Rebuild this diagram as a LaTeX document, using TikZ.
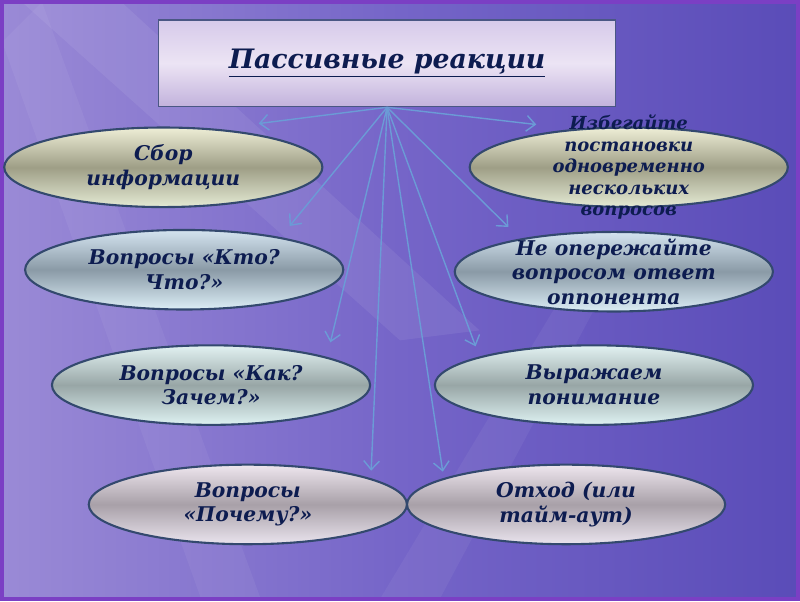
\documentclass[tikz,border=0pt]{standalone}
\usepackage{fontspec}
\setmainfont{DejaVu Serif}
\usepackage{tikz}
\usetikzlibrary{positioning, arrows.meta, shapes.geometric}

\definecolor{bgdark}{HTML}{5A4CB8}
\definecolor{bgmid}{HTML}{7565C8}
\definecolor{bglight}{HTML}{9A8AD6}
\definecolor{framepurple}{HTML}{7B3FC4}
\definecolor{inkblue}{HTML}{0D1C50}
\definecolor{ovalline}{HTML}{33496E}
\definecolor{linkblue}{HTML}{6B9BD6}
\definecolor{titleline}{HTML}{4A5784}
% oval tints: top, middle, bottom
\definecolor{yelT}{HTML}{EEEED6}\definecolor{yelM}{HTML}{9E9E86}\definecolor{yelB}{HTML}{E4EAD4}
\definecolor{bluT}{HTML}{D4E4F0}\definecolor{bluM}{HTML}{8A9AA6}\definecolor{bluB}{HTML}{DCEEF6}
\definecolor{cyaT}{HTML}{E2F2F2}\definecolor{cyaM}{HTML}{98A6A6}\definecolor{cyaB}{HTML}{DEF2F2}
\definecolor{pnkT}{HTML}{EEE6EE}\definecolor{pnkM}{HTML}{A8A0A8}\definecolor{pnkB}{HTML}{EAE4EE}
\definecolor{ttlT}{HTML}{D6CAEA}\definecolor{ttlM}{HTML}{ECE4F4}\definecolor{ttlB}{HTML}{C2B2DC}

\begin{document}
\begin{tikzpicture}[
    x=0.02cm, y=-0.02cm,
    oval/.style={draw=ovalline, line width=1.2pt, ellipse, minimum width=6.4cm,
        minimum height=1.6cm, inner sep=0pt, shading=axis},
    yel/.style={oval, top color=yelT, bottom color=yelB, middle color=yelM},
    blu/.style={oval, top color=bluT, bottom color=bluB, middle color=bluM},
    cya/.style={oval, top color=cyaT, bottom color=cyaB, middle color=cyaM},
    pnk/.style={oval, top color=pnkT, bottom color=pnkB, middle color=pnkM},
    ovtext/.style={align=center, text=inkblue, font=\fontsize{11.6}{14.2}\selectfont\bfseries\itshape},
    link/.style={draw=linkblue, line width=0.8pt, -{Straight Barb[length=5pt, width=9pt]}},
]
% Background
\shade[left color=bglight, right color=bgdark, middle color=bgmid] (0,0) rectangle (800,600);
\fill[white, opacity=0.07] (20,0) -- (120,0) -- (480,330) -- (400,340) -- cycle;
\fill[white, opacity=0.05] (0,40) -- (40,0) -- (260,600) -- (200,600) -- cycle;
\fill[white, opacity=0.05] (380,600) -- (440,600) -- (600,300) -- (560,300) -- cycle;
\draw[framepurple, line width=2.5pt] (0,0) rectangle (800,600);

% Title
\node[draw=titleline, line width=0.8pt, minimum width=9.2cm, minimum height=1.74cm,
    shading=axis, top color=ttlT, bottom color=ttlB, middle color=ttlM,
    font=\fontsize{15.3}{18}\selectfont\bfseries\itshape, text=inkblue] (title) at (387,61.5)
    {\underline{Пассивные реакции}};

% Ovals, left column
\node[yel] (sbor) at (162,166) {};
\node[blu] (kto) at (183,269) {};
\node[cya] (kak) at (210,385) {};
\node[pnk] (pochemu) at (247,505) {};
% Ovals, right column
\node[yel] (izbeg) at (630,166) {};
\node[blu] (neoper) at (615,271) {};
\node[cya] (vyraz) at (595,385) {};
\node[pnk] (othod) at (567,505) {};

% Texts
\node[ovtext] at (sbor) {Сбор\\информации};
\node[ovtext] at (kto) {Вопросы «Кто?\\Что?»};
\node[ovtext] at (kak) {Вопросы «Как?\\Зачем?»};
\node[ovtext] at (pochemu) {Вопросы\\«Почему?»};
\node[ovtext, font=\fontsize{10.3}{12.3}\selectfont\bfseries\itshape] at (izbeg)
    {Избегайте\\постановки\\одновременно\\нескольких\\вопросов};
\node[ovtext] at (neoper) {Не опережайте\\вопросом ответ\\оппонента};
\node[ovtext] at (vyraz) {Выражаем\\понимание};
\node[ovtext] at (othod) {Отход (или\\тайм-аут)};

% Arrow tips
\coordinate (tsbor) at (258,122);
\coordinate (tizbeg) at (537,123);
\coordinate (tkto) at (289,225);
\coordinate (tkak) at (330,342);
\coordinate (tpochemu) at (371,471);
\coordinate (tothod) at (443,472);
\coordinate (tvyraz) at (476,346);
\coordinate (tneoper) at (509,226);

% Arrows
\foreach \t in {tsbor, tizbeg, tkto, tkak, tpochemu, tothod, tvyraz, tneoper}
    \draw[link] (title.south) -- (\t);
\end{tikzpicture}
\end{document}
